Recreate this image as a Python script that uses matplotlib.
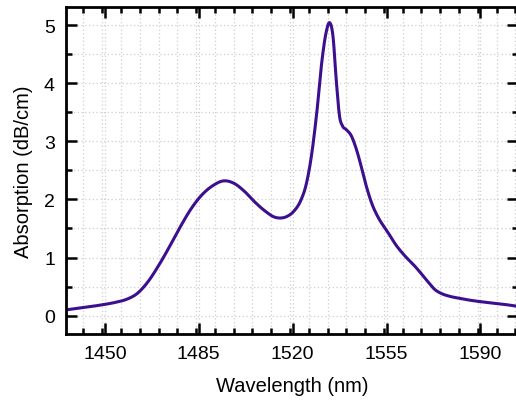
import matplotlib
matplotlib.use('Agg')
from matplotlib import pyplot as plt
from matplotlib.ticker import MultipleLocator
import numpy as np

# wavelength (nm) and absorption (dB/cm)
wavelength = [1435.5, 1442, 1448, 1454, 1458, 1462, 1466, 1470, 1474, 1478,
              1482, 1486, 1490, 1494.5, 1498, 1502, 1506, 1510, 1513, 1515.5,
              1518, 1520.5, 1523, 1525, 1527, 1529, 1531, 1532.5, 1533.8, 1535,
              1536.3, 1537.5, 1538.5, 1540, 1541.8, 1543.7, 1545.6, 1547.5, 1549.5, 1552,
              1555, 1558.6, 1562, 1565, 1568, 1570.5, 1573, 1575.5, 1578, 1582,
              1587, 1592, 1598, 1604]
absorption = [0.10, 0.14, 0.18, 0.23, 0.28, 0.38, 0.58, 0.86, 1.18, 1.52,
              1.83, 2.07, 2.23, 2.32, 2.28, 2.14, 1.95, 1.79, 1.70, 1.68,
              1.71, 1.80, 1.98, 2.25, 2.75, 3.50, 4.42, 4.88, 5.04, 4.82,
              4.02, 3.42, 3.27, 3.20, 3.10, 2.87, 2.56, 2.22, 1.93, 1.68,
              1.47, 1.21, 1.02, 0.88, 0.72, 0.58, 0.45, 0.38, 0.34, 0.30,
              0.26, 0.23, 0.20, 0.16]

plt.rcParams['font.family'] = ['Liberation Sans', 'DejaVu Sans']

fig = plt.figure(figsize=(5.16, 4.02), dpi=100)
ax = fig.add_axes([66/516, 1 - 335/402, 452/516, 327/402])

# cubic hermite through the read points (finite-difference slopes)
x = np.array(wavelength)
y = np.array(absorption)
m = np.gradient(y, x)
xs = np.linspace(x[0], x[-1], 2000)
i = np.clip(np.searchsorted(x, xs) - 1, 0, len(x) - 2)
h = x[i + 1] - x[i]
t = (xs - x[i]) / h
ys = ((2*t**3 - 3*t**2 + 1) * y[i] + (t**3 - 2*t**2 + t) * h * m[i]
      + (-2*t**3 + 3*t**2) * y[i + 1] + (t**3 - t**2) * h * m[i + 1])
ax.plot(xs, ys, color='#3c0f8f', lw=2.2)

ax.set_xlim(1435.5, 1604)
ax.set_ylim(-0.315, 5.31)
ax.set_xticks([1450, 1485, 1520, 1555, 1590])
ax.set_yticks([0, 1, 2, 3, 4, 5])
ax.xaxis.set_minor_locator(MultipleLocator(7))
ax.yaxis.set_minor_locator(MultipleLocator(0.5))
ax.tick_params(which='both', direction='in', top=True, right=True, width=1.8,
               labelsize=14, pad=8)
ax.tick_params(which='major', length=8)
ax.tick_params(which='minor', length=4)
for s in ax.spines.values():
    s.set_linewidth(2)
ax.grid(True, which='both', color='#cfcfcf', ls=(0, (1, 2)), lw=0.9)
ax.set_axisbelow(True)

ax.set_xlabel('Wavelength (nm)', fontsize=14.5, labelpad=10)
ax.set_ylabel('Absorption (dB/cm)', fontsize=14.5, labelpad=8)

fig.savefig('out.png', dpi=100)
